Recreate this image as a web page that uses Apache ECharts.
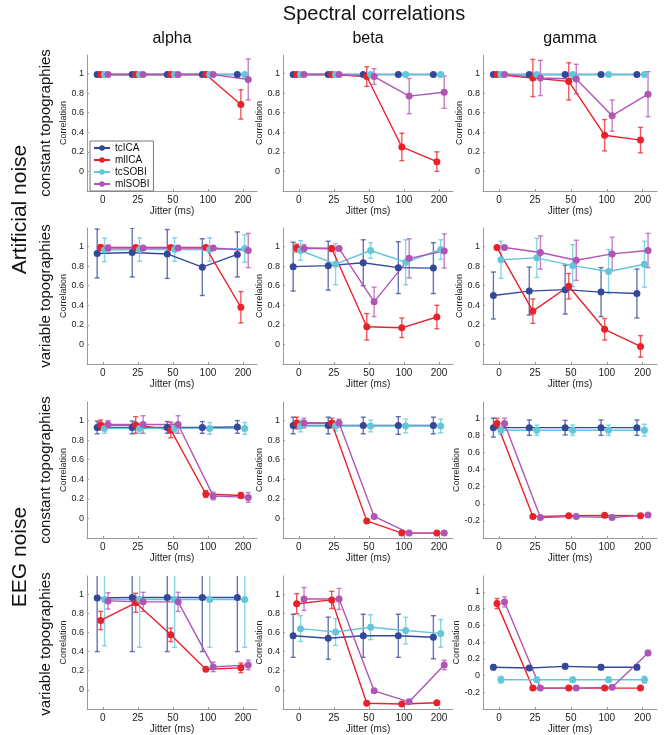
<!DOCTYPE html>
<html>
<head>
<meta charset="utf-8">
<script src="https://cdn.jsdelivr.net/npm/echarts@6/dist/echarts.min.js"></script>
<style>
  html, body { margin: 0; padding: 0; background: #fff; }
  #chart { width: 669px; height: 735px; }
</style>
</head>
<body>
<div id="chart"></div>
<script>
// methods / categories
const methods = ['tcICA', 'mlICA', 'tcSOBI', 'mlSOBI']
const jitters = ['0', '25', '50', '100', '200']
const bands = ['alpha', 'beta', 'gamma']
const rowLabels = ['constant topographies', 'variable topographies', 'constant topographies', 'variable topographies']
const noiseLabels = ['Artificial noise', 'EEG noise']
const yTicks = [0, 0.2, 0.4, 0.6, 0.8, 1]
const yTicksNeg = [-0.2, 0, 0.2, 0.4, 0.6, 0.8, 1]

// values: rows = tcICA, mlICA, tcSOBI, mlSOBI ; columns = jitter 0,25,50,100,200
// artificial noise, constant topographies
const artConstAlphaMean = [
  [0.99, 0.99, 0.99, 0.99, 0.99],
  [0.99, 0.99, 0.99, 0.99, 0.685],
  [0.99, 0.99, 0.99, 0.99, 0.99],
  [0.99, 0.99, 0.99, 0.99, 0.94]
]
const artConstAlphaErr = [
  [0.01, 0.01, 0.01, 0.01, 0.02],
  [0.01, 0.01, 0.01, 0.02, 0.15],
  [0.01, 0.01, 0.01, 0.01, 0.02],
  [0.01, 0.01, 0.01, 0.01, 0.21]
]
const artConstBetaMean = [
  [0.99, 0.99, 0.99, 0.99, 0.99],
  [0.99, 0.99, 0.97, 0.25, 0.10],
  [0.99, 0.99, 0.99, 0.99, 0.99],
  [0.99, 0.99, 0.97, 0.77, 0.81]
]
const artConstBetaErr = [
  [0.01, 0.01, 0.01, 0.01, 0.01],
  [0.01, 0.01, 0.10, 0.14, 0.10],
  [0.01, 0.01, 0.01, 0.01, 0.01],
  [0.01, 0.01, 0.08, 0.18, 0.165]
]
const artConstGammaMean = [
  [0.99, 0.99, 0.99, 0.99, 0.99],
  [0.99, 0.955, 0.92, 0.37, 0.32],
  [0.99, 0.99, 0.99, 0.99, 0.99],
  [0.99, 0.955, 0.945, 0.57, 0.79]
]
const artConstGammaErr = [
  [0.01, 0.01, 0.01, 0.01, 0.01],
  [0.01, 0.19, 0.19, 0.16, 0.13],
  [0.01, 0.01, 0.01, 0.01, 0.01],
  [0.01, 0.18, 0.15, 0.16, 0.23]
]
// artificial noise, variable topographies
const artVarAlphaMean = [
  [0.93, 0.94, 0.925, 0.79, 0.92],
  [0.99, 0.99, 0.99, 0.99, 0.38],
  [0.965, 0.97, 0.97, 0.97, 0.98],
  [0.985, 0.985, 0.985, 0.985, 0.96]
]
const artVarAlphaErr = [
  [0.25, 0.25, 0.25, 0.29, 0.23],
  [0.03, 0.02, 0.02, 0.02, 0.16],
  [0.12, 0.12, 0.12, 0.12, 0.14],
  [0.03, 0.02, 0.02, 0.02, 0.175]
]
const artVarBetaMean = [
  [0.795, 0.805, 0.835, 0.785, 0.78],
  [0.985, 0.98, 0.18, 0.17, 0.28],
  [0.96, 0.82, 0.96, 0.84, 0.97],
  [0.98, 0.98, 0.435, 0.88, 0.955]
]
const artVarBetaErr = [
  [0.25, 0.25, 0.235, 0.265, 0.26],
  [0.04, 0.03, 0.135, 0.10, 0.12],
  [0.10, 0.21, 0.08, 0.23, 0.10],
  [0.04, 0.02, 0.15, 0.20, 0.175]
]
const artVarGammaMean = [
  [0.50, 0.545, 0.56, 0.535, 0.52],
  [0.99, 0.34, 0.595, 0.155, -0.02],
  [0.865, 0.885, 0.805, 0.745, 0.82],
  [0.99, 0.94, 0.86, 0.925, 0.96]
]
const artVarGammaErr = [
  [0.24, 0.245, 0.25, 0.25, 0.25],
  [0.01, 0.125, 0.13, 0.11, 0.11],
  [0.19, 0.20, 0.215, 0.225, 0.235],
  [0.01, 0.17, 0.205, 0.17, 0.175]
]
// EEG noise, constant topographies
const eegConstAlphaMean = [
  [0.93, 0.93, 0.93, 0.93, 0.935],
  [0.955, 0.955, 0.905, 0.25, 0.235],
  [0.92, 0.92, 0.92, 0.92, 0.92],
  [0.96, 0.96, 0.96, 0.23, 0.215]
]
const eegConstAlphaErr = [
  [0.065, 0.065, 0.06, 0.06, 0.065],
  [0.05, 0.085, 0.08, 0.035, 0.03],
  [0.05, 0.05, 0.05, 0.06, 0.06],
  [0.04, 0.09, 0.09, 0.04, 0.05]
]
const eegConstBetaMean = [
  [0.95, 0.95, 0.95, 0.95, 0.95],
  [0.975, 0.975, -0.025, -0.15, -0.15],
  [0.945, 0.945, 0.945, 0.945, 0.945],
  [0.975, 0.975, 0.02, -0.15, -0.15]
]
const eegConstBetaErr = [
  [0.085, 0.085, 0.085, 0.09, 0.085],
  [0.06, 0.05, 0.01, 0.01, 0.01],
  [0.06, 0.05, 0.06, 0.07, 0.07],
  [0.05, 0.04, 0.01, 0.01, 0.01]
]
const eegConstGammaMean = [
  [0.89, 0.89, 0.89, 0.89, 0.89],
  [0.94, -0.15, -0.14, -0.135, -0.14],
  [0.86, 0.86, 0.86, 0.86, 0.86],
  [0.94, -0.16, -0.15, -0.16, -0.13]
]
const eegConstGammaErr = [
  [0.11, 0.09, 0.085, 0.09, 0.09],
  [0.06, 0.01, 0.01, 0.01, 0.01],
  [0.05, 0.06, 0.06, 0.06, 0.07],
  [0.06, 0.01, 0.01, 0.01, 0.01]
]
// EEG noise, variable topographies
const eegVarAlphaMean = [
  [0.96, 0.965, 0.965, 0.965, 0.965],
  [0.725, 0.91, 0.575, 0.215, 0.23],
  [0.945, 0.945, 0.945, 0.945, 0.945],
  [0.93, 0.92, 0.92, 0.24, 0.26]
]
const eegVarAlphaErr = [
  [0.56, 0.565, 0.565, 0.565, 0.565],
  [0.095, 0.10, 0.07, 0.02, 0.05],
  [0.485, 0.50, 0.50, 0.50, 0.50],
  [0.085, 0.10, 0.10, 0.05, 0.05]
]
const eegVarBetaMean = [
  [0.565, 0.54, 0.565, 0.565, 0.55],
  [0.90, 0.94, -0.14, -0.147, -0.135],
  [0.64, 0.605, 0.655, 0.62, 0.59],
  [0.95, 0.95, -0.01, -0.125, 0.26]
]
const eegVarBetaErr = [
  [0.225, 0.22, 0.225, 0.225, 0.225],
  [0.105, 0.09, 0.01, 0.01, 0.01],
  [0.135, 0.14, 0.13, 0.14, 0.145],
  [0.12, 0.11, 0.01, 0.01, 0.05]
]
const eegVarGammaMean = [
  [0.10, 0.09, 0.11, 0.10, 0.10],
  [0.86, -0.15, -0.15, -0.15, -0.15],
  [-0.05, -0.05, -0.05, -0.05, -0.05],
  [0.88, -0.15, -0.15, -0.14, 0.27]
]
const eegVarGammaErr = [
  [0.03, 0.02, 0.03, 0.03, 0.03],
  [0.06, 0.01, 0.01, 0.01, 0.01],
  [0.04, 0.03, 0.03, 0.03, 0.04],
  [0.06, 0.01, 0.01, 0.01, 0.03]
]

const colors = ['#34489a', '#e8212b', '#63c7d9', '#b155b4']
const offsets = [-0.16, -0.06, 0.05, 0.15]

// panels in reading order (row by row)
const panels = [
  { mean: artConstAlphaMean, err: artConstAlphaErr, ticks: yTicks },
  { mean: artConstBetaMean, err: artConstBetaErr, ticks: yTicks },
  { mean: artConstGammaMean, err: artConstGammaErr, ticks: yTicks },
  { mean: artVarAlphaMean, err: artVarAlphaErr, ticks: yTicks },
  { mean: artVarBetaMean, err: artVarBetaErr, ticks: yTicks },
  { mean: artVarGammaMean, err: artVarGammaErr, ticks: yTicks },
  { mean: eegConstAlphaMean, err: eegConstAlphaErr, ticks: yTicks },
  { mean: eegConstBetaMean, err: eegConstBetaErr, ticks: yTicks },
  { mean: eegConstGammaMean, err: eegConstGammaErr, ticks: yTicksNeg },
  { mean: eegVarAlphaMean, err: eegVarAlphaErr, ticks: yTicks },
  { mean: eegVarBetaMean, err: eegVarBetaErr, ticks: yTicks },
  { mean: eegVarGammaMean, err: eegVarGammaErr, ticks: yTicksNeg }
]

const colLeft = [87, 283, 483]
const colWidth = [170, 170, 174]
const rowTop = [55, 228, 402, 576]
const rowHeight = 136
const font = 'Liberation Sans, Arial, sans-serif'

const grids = []
const xAxes = []
const yAxes = []
const series = []

panels.forEach((p, gi) => {
  const r = Math.floor(gi / 3)
  const c = gi % 3
  grids.push({ left: colLeft[c], top: rowTop[r], width: colWidth[c], height: rowHeight })
  xAxes.push({
    type: 'value',
    gridIndex: gi,
    min: -0.45,
    max: 4.4,
    name: 'Jitter (ms)',
    nameLocation: 'middle',
    nameGap: 15,
    nameTextStyle: { fontSize: 10, color: '#222', fontFamily: font },
    axisLine: { onZero: false, lineStyle: { color: '#9a9a9a', width: 1 } },
    axisTick: { show: true, inside: true, length: 2, lineStyle: { color: '#9a9a9a' }, customValues: [0, 1, 2, 3, 4] },
    axisLabel: {
      customValues: [0, 1, 2, 3, 4],
      formatter: v => jitters[Math.round(v)],
      fontSize: 10, color: '#222', margin: 4, fontFamily: font
    },
    splitLine: { show: false }
  })
  const neg = p.ticks[0] < 0
  yAxes.push({
    type: 'value',
    gridIndex: gi,
    min: neg ? -0.4 : -0.2,
    max: 1.19,
    name: 'Correlation',
    nameLocation: 'middle',
    nameGap: neg ? 19 : 16,
    nameTextStyle: { fontSize: 9, color: '#222', fontFamily: font },
    axisLine: { show: true, onZero: false, lineStyle: { color: '#9a9a9a', width: 1 } },
    axisTick: { show: true, inside: true, length: 2, lineStyle: { color: '#9a9a9a' }, customValues: p.ticks },
    axisLabel: {
      customValues: p.ticks,
      formatter: v => String(+v.toFixed(1)),
      fontSize: 9, color: '#222', margin: 3, fontFamily: font
    },
    splitLine: { show: false }
  })

  methods.forEach((name, m) => {
    // error bars
    series.push({
      type: 'custom',
      name: name + ' err',
      xAxisIndex: gi,
      yAxisIndex: gi,
      clip: true,
      z: 2,
      silent: true,
      data: p.mean[m].map((v, i) => [i + offsets[m], v - p.err[m][i], v + p.err[m][i]]),
      renderItem: (params, api) => {
        const lo = api.coord([api.value(0), api.value(1)])
        const hi = api.coord([api.value(0), api.value(2)])
        const w = 2.5
        const style = { stroke: colors[m], lineWidth: 1.4, opacity: 0.75 }
        return {
          type: 'group',
          children: [
            { type: 'line', shape: { x1: lo[0], y1: lo[1], x2: hi[0], y2: hi[1] }, style },
            { type: 'line', shape: { x1: lo[0] - w, y1: lo[1], x2: lo[0] + w, y2: lo[1] }, style },
            { type: 'line', shape: { x1: hi[0] - w, y1: hi[1], x2: hi[0] + w, y2: hi[1] }, style }
          ]
        }
      }
    })
    // mean line
    series.push({
      type: 'line',
      name: name,
      xAxisIndex: gi,
      yAxisIndex: gi,
      z: 3,
      symbol: 'circle',
      symbolSize: 7,
      data: p.mean[m].map((v, i) => [i + offsets[m], v]),
      itemStyle: { color: colors[m] },
      lineStyle: { color: colors[m], width: 1.4 }
    })
  })
})

// titles and side labels
const graphics = [
  { type: 'text', x: 374, y: 14, style: { text: 'Spectral correlations', font: '20px ' + font, fill: '#111', textAlign: 'center', textVerticalAlign: 'middle' } }
]
bands.forEach((b, c) => {
  graphics.push({ type: 'text', x: colLeft[c] + colWidth[c] / 2, y: 39, style: { text: b, font: '16px ' + font, fill: '#111', textAlign: 'center', textVerticalAlign: 'middle' } })
})
rowLabels.forEach((t, r) => {
  graphics.push({ type: 'text', x: 46, y: rowTop[r] + rowHeight / 2, rotation: Math.PI / 2, style: { text: t, font: '15px ' + font, fill: '#111', textAlign: 'center', textVerticalAlign: 'middle' } })
})
noiseLabels.forEach((t, k) => {
  const y = (rowTop[2 * k] + rowTop[2 * k + 1] + rowHeight) / 2
  graphics.push({ type: 'text', x: 20, y: y, rotation: Math.PI / 2, style: { text: t, font: '21px ' + font, fill: '#111', textAlign: 'center', textVerticalAlign: 'middle' } })
})

const chart = echarts.init(document.getElementById('chart'), null, { renderer: 'canvas' })
chart.setOption({
  animation: false,
  backgroundColor: '#fff',
  textStyle: { fontFamily: font },
  grid: grids,
  xAxis: xAxes,
  yAxis: yAxes,
  legend: {
    data: methods,
    orient: 'vertical',
    left: 90,
    top: 141,
    itemWidth: 16,
    itemHeight: 7,
    itemGap: 2,
    padding: [2, 4, 2, 3],
    backgroundColor: '#fff',
    borderColor: '#777',
    borderWidth: 1,
    textStyle: { fontSize: 10, color: '#111', fontFamily: font }
  },
  graphic: graphics,
  series: series
})
</script>
</body>
</html>
